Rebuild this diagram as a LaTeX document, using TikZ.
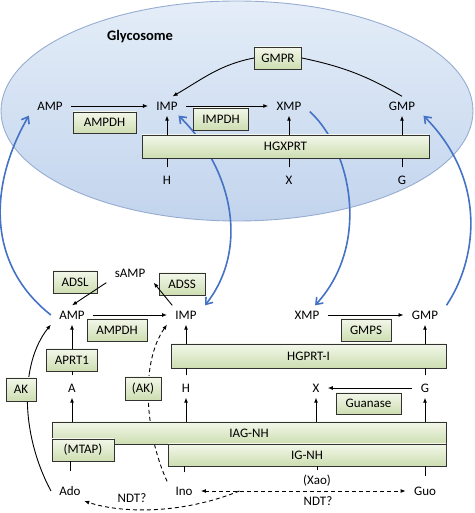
\documentclass[tikz,border=0pt]{standalone}
\usepackage{fontspec}
\setmainfont{Carlito}
\usetikzlibrary{arrows.meta,calc,positioning}
\definecolor{enzhi}{RGB}{242,247,233}
\definecolor{enzlo}{RGB}{206,222,178}
\definecolor{enzline}{RGB}{50,50,50}
\definecolor{glyhi}{RGB}{228,237,248}
\definecolor{glylo}{RGB}{194,212,237}
\definecolor{glyline}{RGB}{150,172,208}
\definecolor{trans}{RGB}{68,114,196}
\tikzset{
	pathway/.style={x=1pt,y=1pt,font=\fontsize{13}{15}\selectfont,line width=0.9pt,
		>={Latex[length=5pt,width=4pt]}},
	met/.style={inner xsep=8pt,inner ysep=5pt},
	enz/.style={draw=enzline,top color=enzhi,bottom color=enzlo,line width=0.9pt,
		minimum height=22pt,inner sep=0pt},
	ar/.style={->},
	dsh/.style={dash pattern=on 4pt off 3pt},
	tr/.style={draw=trans,line width=1.6pt,-{Straight Barb[length=6pt,width=9pt]}},
	trtr/.style={tr,{Straight Barb[length=6pt,width=9pt]}-{Straight Barb[length=6pt,width=9pt]}},
	stub/.style={shorten <=#1},
	stub/.default=3pt
}
\begin{document}
\begin{tikzpicture}[pathway]
	\useasboundingbox (0,0) rectangle (474,513);
	% glycosome
	\path[draw=glyline,top color=glyhi,bottom color=glylo] (237,402) ellipse [x radius=236,y radius=110];
	\node[font=\fontsize{14.5}{17}\selectfont\bfseries] (glyname) at (140,476) {Glycosome};
	\node[met] (AMPg) at (50,407) {AMP};
	\node[met] (IMPg) at (167,407) {IMP};
	\node[met] (XMPg) at (289,407) {XMP};
	\node[met] (GMPg) at (402,407) {GMP};
	\node[met] (Hg) at (167,333) {H};
	\node[met] (Xg) at (289,333) {X};
	\node[met] (Gg) at (402,333) {G};
	% cytosol
	\node[met] (AMPc) at (72,198) {AMP};
	\node[met] (IMPc) at (186,198) {IMP};
	\node[met] (XMPc) at (307,198) {XMP};
	\node[met] (GMPc) at (425,198) {GMP};
	\node[met] (sAMP) at (130,240) {sAMP};
	\node[met] (A) at (72,125) {A};
	\node[met] (H) at (186,125) {H};
	\node[met] (X) at (316,125) {X};
	\node[met] (G) at (425,125) {G};
	\node[met] (Ado) at (70,22) {Ado};
	\node[met] (Ino) at (184,22) {Ino};
	\node[met] (Guo) at (425,22) {Guo};
	\node[met] (Xao) at (317,32) {(Xao)};
	\node (ndtA) at (132,15) {NDT?};
	\node (ndtB) at (318,12) {NDT?};
	% transport
	\draw[tr] (AMPc.west) .. controls (-15,250) and (-10,330) .. (AMPg.south west);
	\draw[trtr] (IMPg.-40) .. controls (232,345) and (250,265) .. (IMPc.north east);
	\draw[tr] (XMPg.-15) .. controls (350,365) and (372,270) .. (XMPc.50);
	\draw[tr] (GMPc.north east) .. controls (475,250) and (490,330) .. (GMPg.south east);
	\draw[ar] (Ado.west) .. controls (20,80) and (20,150) .. (AMPc.south west);
	\draw[dsh,->] (Ino.north west) .. controls (145,80) and (140,150) .. (IMPc.south west);
	% enzymes
	\node[enz,minimum width=63pt,minimum height=21pt] (AMPDHg) at (104.5,390.5) {AMPDH};
	\node[enz,minimum width=55pt] (IMPDH) at (221,394) {IMPDH};
	\node[enz,minimum width=47pt] (GMPR) at (278,455) {GMPR};
	\node[enz,minimum width=287pt,minimum height=23pt] (HGXPRT) at (285.5,366.5) {HGXPRT};
	\node[enz,minimum width=44pt] (ADSL) at (75,231) {ADSL};
	\node[enz,minimum width=46pt] (ADSS) at (182,229) {ADSS};
	\node[enz,minimum width=60pt] (AMPDHc) at (117,183) {AMPDH};
	\node[enz,minimum width=50pt] (GMPS) at (366,183) {GMPS};
	\node[enz,minimum width=275pt,minimum height=24pt] (HGPRT) at (308.5,157) {HGPRT-I};
	\node[enz,minimum width=51pt] (APRT) at (72,153) {APRT1};
	\node[enz,minimum width=65pt,minimum height=21pt] (Guanase) at (368.5,109.5) {Guanase};
	\node[enz,minimum width=30pt,minimum height=23pt] (AK) at (21,123.5) {AK};
	\node[enz,minimum width=36pt,minimum height=23pt] (AKd) at (143,124.5) {(AK)};
	\node[enz,minimum width=394pt] (IAGNH) at (249,80) {IAG-NH};
	\node[enz,minimum width=278pt] (IGNH) at (307,58) {IG-NH};
	\node[enz,minimum width=62pt] (MTAP) at (83,63) {(MTAP)};
	% reactions
	\draw[ar] (AMPg) -- (IMPg);
	\draw[ar] (IMPg) -- (XMPg);
	\draw[ar] (GMPR.west) to[out=191,in=30] (IMPg.60);
	\draw (GMPR.east) to[out=-12,in=150] (GMPg.north);
	\foreach \m in {IMPg,XMPg,GMPg} \draw[ar] (HGXPRT.north -| \m) -- (\m);
	\foreach \m in {Hg,Xg,Gg} \draw[stub] (\m) -- (HGXPRT.south -| \m);
	\draw[ar] (AMPc) -- (IMPc);
	\draw[ar] (XMPc) -- (GMPc);
	\draw[ar] (sAMP.south west) -- (AMPc.north);
	\draw[ar] (IMPc.145) -- (sAMP.south east);
	\foreach \m in {IMPc,GMPc} \draw[ar] (HGPRT.north -| \m) -- (\m);
	\foreach \m in {H,G} \draw[stub] (\m) -- (HGPRT.south -| \m);
	\draw[ar] (APRT.north) -- (AMPc);
	\draw[stub] (A) -- (APRT);
	\foreach \m in {A,H,X,G} \draw[ar] (IAGNH.north -| \m) -- (\m);
	\draw[ar] (G) -- (X);
	\draw[stub=10pt] (Ado) -- (MTAP.south -| Ado);
	\draw[stub=9pt] (Ino) -- (IGNH.south -| Ino);
	\draw (Xao) -- (IGNH.south -| Xao);
	\draw[stub=5pt] (Guo) -- (IGNH.south -| Guo);
	\draw[dsh,<->] (Ino) -- (Guo);
	\coordinate (ndtsplit) at ($(Ino)!0.23!(Guo)$);
	\draw[dsh,->] (ndtsplit) .. controls (180,-2) and (120,0) .. (Ado.-35);
\end{tikzpicture}
\end{document}
